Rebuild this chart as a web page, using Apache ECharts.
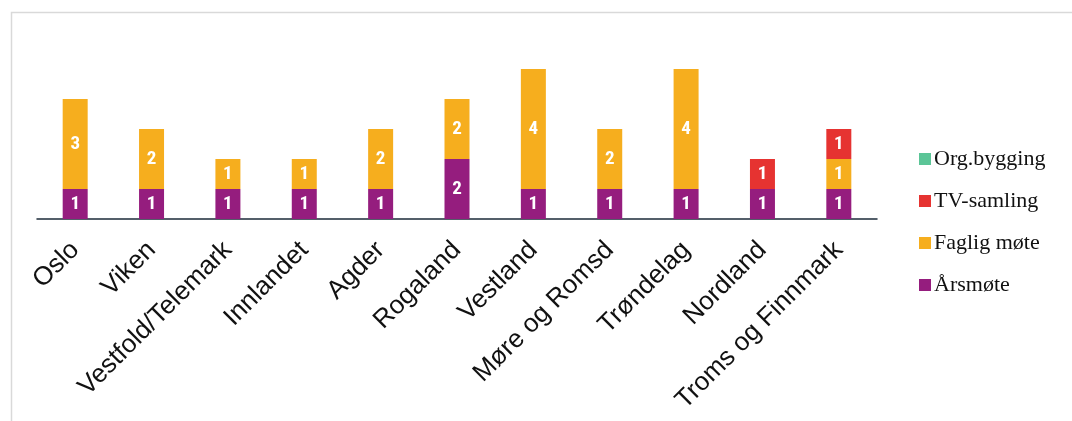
<!DOCTYPE html>
<html><head><meta charset="utf-8">
<script src="https://cdn.jsdelivr.net/npm/echarts@6/dist/echarts.min.js"></script>
<style>html,body{margin:0;padding:0;background:#fff}#c{width:1072px;height:421px}</style>
</head><body><div id="c"></div>
<script>
const categories = ['Oslo','Viken','Vestfold/Telemark','Innlandet','Agder','Rogaland','Vestland','Møre og Romsd','Trøndelag','Nordland','Troms og Finnmark'];
const arsmote = [1,1,1,1,1,2,1,1,1,1,1];
const fagligMote = [3,2,1,1,2,2,4,2,4,0,1];
const tvSamling = [0,0,0,0,0,0,0,0,0,1,1];
const orgBygging = [0,0,0,0,0,0,0,0,0,0,0];

const chart = echarts.init(document.getElementById('c'));
const lbl = {
  show: true, position: 'inside', color: '#fff', fontWeight: 'bold',
  fontFamily: 'Liberation Sans Narrow, Roboto Condensed, Liberation Sans, Arial', fontSize: 19,
  formatter: p => p.value ? String(p.value) : ''
};
function s(name, data, color) {
  return { name, type: 'bar', stack: 'a', data, barWidth: 25, itemStyle: { color }, label: lbl };
}
chart.setOption({
  animation: false,
  graphic: [{ type: 'rect', shape: { x: 11.5, y: 12.5, width: 1100, height: 500 },
    style: { fill: 'none', stroke: '#d9d9d9', lineWidth: 1.5 }, silent: true }],
  grid: { left: 37, right: 195, top: 69, bottom: 202 },
  legend: {
    orient: 'vertical', left: 914, top: 143, itemWidth: 12, itemHeight: 12, itemGap: 20,
    icon: 'rect',
    textStyle: { fontFamily: 'Liberation Serif, serif', fontSize: 22, color: '#111', padding: [0,0,0,-2] },
    data: ['Org.bygging','TV-samling','Faglig møte','Årsmøte']
  },
  xAxis: {
    type: 'category', data: categories,
    axisLine: { lineStyle: { color: '#1c2b3a', width: 1.5 } },
    axisTick: { show: false },
    axisLabel: { rotate: 45, interval: 0, fontFamily: 'Liberation Sans, Arial', fontSize: 26, color: '#111', margin: 27 }
  },
  yAxis: { type: 'value', min: 0, max: 5, show: false, splitLine: { show: false } },
  series: [
    s('Årsmøte', arsmote, '#951D7E'),
    s('Faglig møte', fagligMote, '#F6AE1E'),
    s('TV-samling', tvSamling, '#E63331'),
    s('Org.bygging', orgBygging, '#5BC597')
  ]
});
</script></body></html>
